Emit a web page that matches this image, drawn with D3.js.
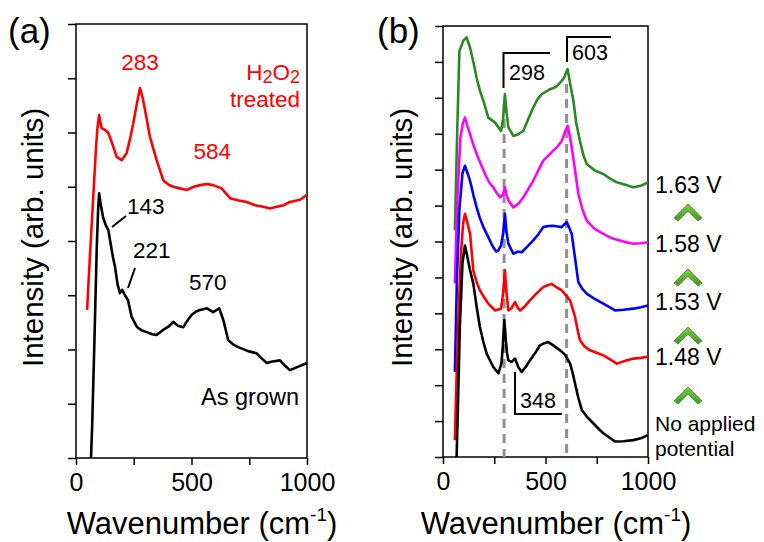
<!DOCTYPE html>
<html>
<head>
<meta charset="utf-8">
<script src="https://cdn.jsdelivr.net/npm/d3@7/dist/d3.min.js"></script>
<style>
  body { margin: 0; background: #fff; }
  text { font-family: Arial, "Liberation Sans", sans-serif; }
</style>
</head>
<body>
<svg id="viz" width="764" height="542"></svg>
<script>
// ---- data: [wavenumber, intensity (arb.)] ----
const asGrown = [[60,-0.6],[70,0.6],[80,2.2],[90,3.9],[96,4.6],[100,4.88],[106,4.7],[117,4.44],[128,4.3],[140,4.2],[150,3.95],[160,3.7],[169,3.52],[180,3.2],[190,3.04],[200,3.1],[212,3.0],[225,2.91],[241,2.6],[263,2.42],[285,2.35],[306,2.32],[330,2.28],[349,2.27],[377,2.36],[400,2.42],[421,2.51],[440,2.44],[464,2.41],[485,2.55],[501,2.64],[520,2.7],[537,2.73],[567,2.76],[594,2.69],[620,2.76],[638,2.54],[659,2.17],[685,2.08],[710,2.03],[745,1.97],[782,1.93],[800,1.85],[826,1.75],[850,1.78],[883,1.8],[905,1.7],[926,1.62],[960,1.68],[1000,1.75]];
const h2o2 = [[48,2.73],[60,3.7],[74,4.76],[85,5.6],[92,6.05],[100,6.32],[111,6.08],[125,6.05],[140,5.99],[158,5.78],[176,5.55],[198,5.49],[219,5.62],[235,5.9],[248,6.17],[262,6.5],[277,6.82],[288,6.65],[299,6.41],[320,5.92],[335,5.7],[349,5.49],[378,5.12],[400,5.04],[421,5.0],[450,4.97],[479,4.94],[510,5.0],[537,5.03],[565,5.05],[594,5.03],[630,4.97],[667,4.79],[700,4.75],[739,4.72],[775,4.66],[810,4.63],[840,4.6],[869,4.63],[900,4.66],[926,4.72],[970,4.76],[1000,4.85]];

const v163 = [[58,6.31],[70,9.2],[80,11.3],[100,11.6],[115,11.68],[132,11.4],[150,10.95],[164,10.56],[180,10.2],[197,9.92],[221,9.45],[254,9.31],[283,9.08],[293,9.4],[302,10.1],[310,9.6],[319,9.18],[343,8.94],[365,8.98],[392,9.08],[415,9.4],[440,9.73],[460,9.95],[481,10.1],[522,10.24],[550,10.3],[571,10.42],[590,10.55],[608,10.8],[620,10.4],[636,9.92],[650,9.3],[668,8.8],[685,8.4],[701,8.16],[740,7.98],[782,7.88],[815,7.75],[847,7.65],[890,7.58],[928,7.51],[965,7.55],[1000,7.65]];
const v158 = [[58,4.83],[70,7.2],[85,8.9],[97,9.3],[107,9.45],[120,9.2],[132,8.99],[148,8.7],[164,8.44],[185,8.15],[205,7.88],[225,7.65],[245,7.51],[262,7.35],[278,7.23],[292,7.3],[302,7.51],[310,7.3],[319,7.14],[343,6.95],[368,7.05],[392,7.23],[415,7.45],[440,7.69],[465,7.98],[489,8.25],[515,8.4],[538,8.53],[560,8.65],[579,8.8],[595,9.05],[608,9.22],[618,8.95],[628,8.62],[645,7.95],[660,7.33],[680,6.9],[701,6.58],[740,6.35],[782,6.21],[820,6.1],[863,6.03],[895,5.98],[928,5.94],[965,5.95],[1000,5.98]];
const v153 = [[58,2.37],[68,5.0],[80,6.9],[95,7.9],[107,8.11],[120,7.9],[132,7.69],[148,7.3],[164,6.95],[180,6.65],[197,6.4],[221,6.12],[235,5.95],[245,5.84],[260,5.72],[270,5.75],[283,5.89],[293,6.2],[302,6.77],[310,6.25],[319,5.94],[343,5.66],[365,5.72],[384,5.7],[410,5.85],[440,6.03],[465,6.2],[489,6.4],[515,6.43],[538,6.44],[560,6.42],[579,6.4],[603,6.54],[615,6.4],[628,6.21],[645,5.5],[660,4.87],[680,4.68],[701,4.55],[740,4.4],[782,4.27],[810,4.18],[839,4.08],[880,4.1],[928,4.13],[965,4.17],[1000,4.22]];
const v148 = [[58,0.47],[66,2.2],[75,3.9],[88,5.7],[98,6.5],[107,6.77],[118,6.55],[132,6.21],[148,5.19],[165,4.85],[180,4.64],[200,4.45],[221,4.27],[254,4.08],[283,4.13],[293,4.55],[302,5.19],[310,4.55],[319,4.08],[335,4.15],[351,4.31],[365,4.15],[376,4.08],[400,4.2],[424,4.36],[455,4.55],[489,4.73],[510,4.78],[530,4.82],[555,4.72],[579,4.64],[600,4.5],[620,4.36],[644,3.9],[658,3.5],[668,3.25],[690,3.08],[717,2.97],[750,2.9],[782,2.83],[815,2.72],[847,2.6],[890,2.68],[928,2.74],[965,2.76],[1000,2.79]];
const v000 = [[64,-0.5],[72,1.2],[82,3.6],[95,5.4],[107,5.89],[118,5.6],[130,5.25],[148,4.82],[165,4.15],[180,3.62],[197,3.2],[213,2.88],[230,2.68],[245,2.51],[270,2.33],[285,2.6],[292,3.1],[299,3.81],[306,3.3],[312,2.9],[319,2.69],[335,2.65],[351,2.74],[368,2.5],[384,2.37],[405,2.52],[424,2.69],[450,2.9],[473,3.11],[495,3.17],[514,3.2],[540,3.1],[571,2.97],[595,2.85],[620,2.6],[632,2.35],[644,2.05],[660,1.65],[677,1.31],[705,1.1],[733,0.94],[760,0.78],[782,0.66],[810,0.55],[839,0.43],[880,0.44],[928,0.47],[965,0.52],[1000,0.61]];

const seriesB = [
  { name: '1.63 V', color: '#2a8a22', values: v163 },
  { name: '1.58 V', color: '#ff00ff', values: v158 },
  { name: '1.53 V', color: '#0000ff', values: v153 },
  { name: '1.48 V', color: '#ff0000', values: v148 },
  { name: 'none',   color: '#000000', values: v000 }
];
const xTicks = [0, 250, 500, 750, 1000];
const xTickLabels = ['0', '', '500', '', '1000'];
const peakLines = [298, 603];
const voltLabels = ['1.63 V', '1.58 V', '1.53 V', '1.48 V'];

const svg = d3.select('#viz');

function panel(box, yMax, id, xLabelX, yLabelX) {
  const x = d3.scaleLinear().domain([0, 1000]).range([box.left, box.right]);
  const y = d3.scaleLinear().domain([0, yMax]).range([box.bottom, box.top]);
  svg.append('clipPath').attr('id', id)
    .append('rect')
    .attr('x', box.left).attr('y', box.top)
    .attr('width', box.right - box.left).attr('height', box.bottom - box.top);

  const ax = svg.append('g')
    .attr('transform', `translate(0,${box.bottom})`)
    .call(d3.axisBottom(x).tickValues(xTicks).tickFormat((d, i) => xTickLabels[i]).tickSize(7).tickPadding(8));
  ax.select('.domain').remove();
  ax.selectAll('line').attr('stroke', '#000').attr('stroke-width', 1.5);
  ax.selectAll('text').attr('font-size', 25).attr('fill', '#000')
    .style('font-family', 'Arial, "Liberation Sans", sans-serif');

  const ay = svg.append('g')
    .attr('transform', `translate(${box.left},0)`)
    .call(d3.axisLeft(y).ticks(yMax).tickFormat('').tickSize(8));
  ay.select('.domain').remove();
  ay.selectAll('line').attr('stroke', '#000').attr('stroke-width', 1.5);

  svg.append('rect')
    .attr('x', box.left).attr('y', box.top)
    .attr('width', box.right - box.left).attr('height', box.bottom - box.top)
    .attr('fill', 'none').attr('stroke', '#000').attr('stroke-width', 1.5);

  const xl = svg.append('text')
    .attr('x', xLabelX).attr('y', 534).attr('text-anchor', 'middle')
    .attr('font-size', 31).text('Wavenumber (cm');
  xl.append('tspan').attr('dy', -13).attr('font-size', 19).text('-1');
  xl.append('tspan').attr('dy', 13).text(')');

  svg.append('text')
    .attr('transform', `translate(${yLabelX},${237.5}) rotate(-90)`)
    .attr('text-anchor', 'middle').attr('font-size', 29.5)
    .text('Intensity (arb. units)');

  return { x, y };
}

function curve(sc, data, color, clip) {
  svg.append('path')
    .datum(data)
    .attr('clip-path', `url(#${clip})`)
    .attr('fill', 'none')
    .attr('stroke', color)
    .attr('stroke-width', 2.6)
    .attr('stroke-linejoin', 'round')
    .attr('d', d3.line().x(d => sc.x(d[0])).y(d => sc.y(d[1])));
}

function label(x, y, txt, size, color, anchor) {
  return svg.append('text').attr('x', x).attr('y', y)
    .attr('font-size', size).attr('fill', color || '#000')
    .attr('text-anchor', anchor || 'start').text(txt);
}

// ---- panel (a) ----
const A = panel({ left: 76, right: 307, top: 24, bottom: 458 }, 8, 'clipA', 202, 43);
curve(A, h2o2, '#ff0000', 'clipA');
curve(A, asGrown, '#000000', 'clipA');

label(8, 43, '(a)', 35);
label(A.x(277), 70, '283', 22.5, '#ff0000', 'middle');
label(A.x(590), 159, '584', 22.5, '#ff0000', 'middle');
const h = label(300, 80, 'H', 22.5, '#ff0000', 'end');
h.append('tspan').attr('font-size', 18).attr('dy', 3).text('2');
h.append('tspan').attr('dy', -3).text('O');
h.append('tspan').attr('font-size', 18).attr('dy', 3).text('2');
label(300, 107, 'treated', 22.5, '#ff0000', 'end');
label(127, 214, '143', 22.5);
label(133, 258, '221', 22.5);
label(A.x(570), 290, '570', 22.5, '#000', 'middle');
label(299, 405, 'As grown', 23.5, '#000', 'end');

svg.append('line').attr('x1', 112).attr('y1', 227).attr('x2', 126).attr('y2', 216)
  .attr('stroke', '#000').attr('stroke-width', 2);
svg.append('line').attr('x1', 128).attr('y1', 288).attr('x2', 135).attr('y2', 268)
  .attr('stroke', '#000').attr('stroke-width', 2);

// ---- panel (b) ----
const B = panel({ left: 443, right: 648, top: 26, bottom: 457 }, 12, 'clipB', 556, 412);

svg.selectAll('.peak').data(peakLines).join('line')
  .attr('class', 'peak')
  .attr('x1', d => B.x(d)).attr('x2', d => B.x(d))
  .attr('y1', (d, i) => i === 0 ? 104 : 84).attr('y2', B.y(0))
  .attr('stroke', '#909090').attr('stroke-width', 3).attr('stroke-dasharray', '9,6');

seriesB.forEach(s => curve(B, s.values, s.color, 'clipB'));

label(377, 43, '(b)', 35);

function bracket(pts) {
  svg.append('path')
    .attr('d', d3.line()(pts))
    .attr('fill', 'none').attr('stroke', '#000').attr('stroke-width', 2);
}
bracket([[503.5, 88], [503.5, 53], [550, 53]]);
label(509, 80, '298', 21.5);
bracket([[567, 62], [567, 37], [611, 37]]);
label(572, 60, '603', 21.5);
bracket([[515, 372], [515, 414], [562, 414]]);
label(520, 408, '348', 21.5);

// voltage labels + chevrons
const voltY = [193, 252, 310, 365];
svg.selectAll('.volt').data(voltLabels).join('text')
  .attr('class', 'volt')
  .attr('x', 655).attr('y', (d, i) => voltY[i])
  .attr('font-size', 23).text(d => d);
label(655, 431, 'No applied', 21);
label(655, 456, 'potential', 21);

const grad = svg.append('defs').append('linearGradient')
  .attr('id', 'chev').attr('x1', 0).attr('y1', 0).attr('x2', 0).attr('y2', 1);
grad.append('stop').attr('offset', '0%').attr('stop-color', '#7fd040');
grad.append('stop').attr('offset', '100%').attr('stop-color', '#3c9a1c');

const chevY = [212, 277, 335, 395];
const chev = d3.line()([[-14, 6], [0, -8], [14, 6], [10, 9], [0, -1], [-10, 9]]) + 'Z';
svg.selectAll('.chev').data(chevY).join('path')
  .attr('class', 'chev')
  .attr('transform', d => `translate(688,${d})`)
  .attr('d', chev)
  .attr('fill', 'url(#chev)')
  .attr('stroke', '#3a8a1a').attr('stroke-width', 0.8);
</script>
</body>
</html>
